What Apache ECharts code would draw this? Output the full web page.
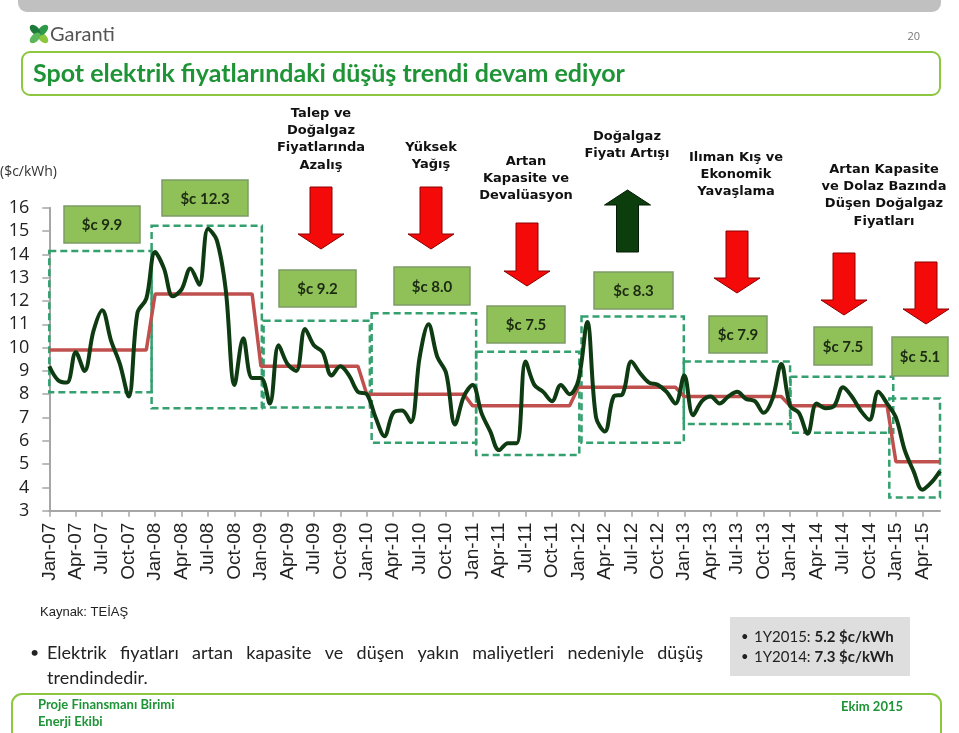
<!DOCTYPE html>
<html><head><meta charset="utf-8">
<script src="https://cdn.jsdelivr.net/npm/echarts@6/dist/echarts.min.js"></script>
<style>html,body{margin:0;padding:0;background:#fff}#c{width:959px;height:733px}</style>
</head><body><div id="c"></div>
<script>
// ---------- DATA ----------
const tickLabels = ['Jan-07','Apr-07','Jul-07','Oct-07','Jan-08','Apr-08','Jul-08','Oct-08',
  'Jan-09','Apr-09','Jul-09','Oct-09','Jan-10','Apr-10','Jul-10','Oct-10',
  'Jan-11','Apr-11','Jul-11','Oct-11','Jan-12','Apr-12','Jul-12','Oct-12',
  'Jan-13','Apr-13','Jul-13','Oct-13','Jan-14','Apr-14','Jul-14','Oct-14',
  'Jan-15','Apr-15'];
// monthly spot price, Jan-07 .. Jun-15 ($c/kWh)
const monthlyPrice = [
  9.2, 8.6, 8.5, 9.8, 9.0, 10.7, 11.6, 10.3, 9.3, 7.9, 11.5, 12.1,
  14.1, 13.4, 12.2, 12.5, 13.4, 12.7, 15.1, 14.6, 12.5, 8.4, 10.4, 8.7,
  8.7, 7.6, 10.1, 9.3, 9.0, 10.8, 10.1, 9.8, 8.8, 9.2, 8.8, 8.1,
  8.0, 7.0, 6.2, 7.2, 7.3, 6.8, 9.6, 11.0, 9.6, 8.9, 6.7, 7.9,
  8.4, 7.2, 6.4, 5.6, 5.9, 5.9, 9.4, 8.4, 8.1, 7.7, 8.4, 8.0,
  8.6, 11.1, 7.0, 6.4, 7.9, 8.0, 9.4, 8.9, 8.5, 8.4, 8.1, 7.6,
  8.8, 7.1, 7.7, 7.9, 7.6, 7.9, 8.1, 7.8, 7.7, 7.2, 7.8, 9.3,
  7.5, 7.2, 6.3, 7.6, 7.4, 7.5, 8.3, 7.9, 7.3, 6.9, 8.1, 7.6,
  7.0, 5.6, 4.7, 3.9, 4.2, 4.7
];
const yearAvg = [9.9, 12.3, 9.2, 8.0, 7.5, 8.3, 7.9, 7.5, 5.1];
const priceLabels = ['$c 9.9','$c 12.3','$c 9.2','$c 8.0','$c 7.5','$c 8.3','$c 7.9','$c 7.5','$c 5.1'];
// dashed range boxes (month index / value)
const boxStart = [0, 11.6, 24.3, 36.55, 48.4, 60.35, 71.95, 84.05, 95.25];
const boxEnd   = [11.6, 24.1, 36.35, 48.4, 60.1, 71.95, 84.0, 95.7, 101];
const boxLow   = [8.08, 7.4, 7.43, 5.92, 5.39, 5.92, 6.72, 6.35, 3.57];
const boxHigh  = [14.15, 15.23, 11.15, 11.47, 9.82, 11.33, 9.4, 8.75, 7.82];
const driverTexts = ['Talep ve\nDoğalgaz\nFiyatlarında\nAzalış','Yüksek\nYağış','Artan\nKapasite ve\nDevalüasyon',
  'Doğalgaz\nFiyatı Artışı','Ilıman Kış ve\nEkonomik\nYavaşlama','Artan Kapasite\nve Dolaz Bazında\nDüşen Doğalgaz\nFiyatları'];

// ---------- LAYOUT (pixels) ----------
const labelBoxes = [[64,206,76,37],[162,180,86,36],[279,270,77,37],[394,267,76,38],[487,306,78,37],
  [594,272,79,37],[709,316,58,37],[814,327,58,38],[892,337,56,39]];
const driverPos = [[321,104.5],[431,138.5],[526,152.5],[627,127.5],[736,148.5],[884,160.5]];
const arrowPos = [[321,187,249,'d'],[431,187,249,'d'],[527,223,286,'d'],[627.5,190,252,'u'],
  [737,231,293,'d'],[844,253,315,'d'],[926,262,324,'d']];

const greenData = monthlyPrice.map((v,i)=>[i,v]);
const redData = monthlyPrice.map((v,i)=>[i, yearAvg[Math.floor(i/12)]]);
const areas = boxStart.map((s,k)=>[{xAxis:s, yAxis:boxHigh[k]},{xAxis:boxEnd[k], yAxis:boxLow[k]}]);

const G = [];
// header bar
G.push({type:'rect', shape:{x:18,y:-12,width:923,height:24,r:9}, style:{fill:'#c0c0c0'}});
// logo
const petals = [['#8cc63f',-45],['#2e9a48',45],['#1e7a3a',135],['#5bb75b',225]];
petals.forEach(p=>{
  const a = p[1]*Math.PI/180;
  G.push({type:'ellipse', x:39+Math.cos(a)*5.5, y:34-Math.sin(a)*5.5, rotation:a,
    shape:{cx:0,cy:0,rx:6.5,ry:3.8}, style:{fill:p[0]}});
});
G.push({type:'text', x:50, y:35, style:{text:'Garanti', font:'20px Lato', fill:'#555', textVerticalAlign:'middle', verticalAlign:'middle'}});
G.push({type:'text', x:920, y:37, style:{text:'20', font:'11px "Open Sans"', fill:'#777', textAlign:'right', align:'right', textVerticalAlign:'middle', verticalAlign:'middle'}});
// title box
G.push({type:'rect', shape:{x:22,y:52,width:918,height:43,r:8}, style:{fill:'none', stroke:'#8dc63f', lineWidth:2}});
G.push({type:'text', x:33, y:74, style:{text:'Spot elektrik fiyatlarındaki düşüş trendi devam ediyor', font:'bold 25px Lato', fill:'#1e9436', textVerticalAlign:'middle', verticalAlign:'middle'}});
G.push({type:'text', x:0, y:172, style:{text:'($c/kWh)', font:'14px "Open Sans"', fill:'#333', textVerticalAlign:'middle', verticalAlign:'middle'}});
// driver texts
driverTexts.forEach((t,k)=>{
  G.push({type:'text', x:driverPos[k][0], y:driverPos[k][1], style:{text:t, font:'bold 13px "DejaVu Sans"', lineHeight:17.4, fill:'#111', textAlign:'center', align:'center', textVerticalAlign:'top', verticalAlign:'top'}});
});
// arrows
arrowPos.forEach(a=>{
  const [cx,t,b,d] = a; const sw=11, hw=23, hl=15;
  let pts;
  if (d==='d') pts=[[cx-sw,t],[cx+sw,t],[cx+sw,b-hl],[cx+hw,b-hl],[cx,b],[cx-hw,b-hl],[cx-sw,b-hl]];
  else pts=[[cx-sw,b],[cx+sw,b],[cx+sw,t+hl],[cx+hw,t+hl],[cx,t],[cx-hw,t+hl],[cx-sw,t+hl]];
  G.push({type:'polygon', shape:{points:pts}, style:d==='d'?{fill:'#f50a0a',stroke:'#8a0000',lineWidth:1}:{fill:'#0c3d0c',stroke:'#041a04',lineWidth:1}, z:5});
});
// price label boxes
priceLabels.forEach((t,k)=>{
  const [x,y,w,h] = labelBoxes[k];
  G.push({type:'rect', shape:{x:x,y:y,width:w,height:h}, style:{fill:'#8fc158', stroke:'#7d9a66', lineWidth:1.5}, z:5});
  G.push({type:'text', x:x+w/2, y:y+h/2+1, style:{text:t, font:'bold 15px Lato', fill:'#1c2a12', textAlign:'center', align:'center', textVerticalAlign:'middle', verticalAlign:'middle'}, z:6});
});
// source
G.push({type:'text', x:40, y:612, style:{text:'Kaynak: TEİAŞ', font:'13px "Liberation Sans"', fill:'#222', textVerticalAlign:'middle', verticalAlign:'middle'}});
// justified bullet line
const bulletWords = 'Elektrik fiyatları artan kapasite ve düşen yakın maliyetleri nedeniyle düşüş'.split(' ');
const mctx = document.createElement('canvas').getContext('2d');
mctx.font = '18px Lato';
const ww = bulletWords.map(w=>mctx.measureText(w).width);
const totalW = ww.reduce((a,b)=>a+b,0);
const gap = (703-47-totalW)/(bulletWords.length-1);
let xx = 47;
bulletWords.forEach((w,k)=>{
  G.push({type:'text', x:xx, y:653, style:{text:w, font:'18px Lato', fill:'#222', textVerticalAlign:'middle', verticalAlign:'middle'}});
  xx += ww[k]+gap;
});
G.push({type:'text', x:30, y:653, style:{text:'•', font:'16px Lato', fill:'#222', textVerticalAlign:'middle', verticalAlign:'middle'}});
G.push({type:'text', x:47, y:678, style:{text:'trendindedir.', font:'18px Lato', fill:'#222', textVerticalAlign:'middle', verticalAlign:'middle'}});
// gray box
G.push({type:'rect', shape:{x:730,y:617,width:180,height:59}, style:{fill:'#dedede'}});
[['1Y2015: ','5.2 $c/kWh',637],['1Y2014: ','7.3 $c/kWh',657]].forEach(r=>{
  G.push({type:'text', x:741, y:r[2], style:{text:'•', font:'13px Lato', fill:'#222', textVerticalAlign:'middle', verticalAlign:'middle'}});
  G.push({type:'text', x:754, y:r[2], style:{text:'{n|'+r[0]+'}{b|'+r[1]+'}', textVerticalAlign:'middle', verticalAlign:'middle',
    rich:{n:{font:'15px Lato', fill:'#222'}, b:{font:'bold 15px Lato', fill:'#222'}}}});
});
// footer
G.push({type:'rect', shape:{x:12,y:694,width:929,height:60,r:10}, style:{fill:'none', stroke:'#8dc63f', lineWidth:2}});
G.push({type:'text', x:38, y:705, style:{text:'Proje Finansmanı Birimi', font:'bold 13px Lato', fill:'#1e9436', textVerticalAlign:'middle', verticalAlign:'middle'}});
G.push({type:'text', x:38, y:722, style:{text:'Enerji Ekibi', font:'bold 13px Lato', fill:'#1e9436', textVerticalAlign:'middle', verticalAlign:'middle'}});
G.push({type:'text', x:903, y:707, style:{text:'Ekim 2015', font:'bold 13px Lato', fill:'#1e9436', textAlign:'right', align:'right', textVerticalAlign:'middle', verticalAlign:'middle'}});

const tickVals = tickLabels.map((_,k)=>k*3);
const chart = echarts.init(document.getElementById('c'), null, {renderer:'canvas'});
chart.setOption({
  animation:false,
  backgroundColor:'#fff',
  grid:{left:49.3, right:19, top:207.8, bottom:222.3, containLabel:false},
  xAxis:{type:'value', min:0, max:101, interval:3, splitLine:{show:false},
    axisLine:{show:true, lineStyle:{color:'#a6a6a6', width:2}},
    axisTick:{show:true, length:6, lineStyle:{color:'#a6a6a6', width:1.5}, customValues:tickVals},
    axisLabel:{rotate:90, margin:12, fontSize:19, fontFamily:'Liberation Sans', color:'#222', customValues:tickVals,
      formatter:v=>tickLabels[Math.round(v/3)]||''}},
  yAxis:{type:'value', min:3, max:16, interval:1, splitLine:{show:false},
    axisLine:{show:true, lineStyle:{color:'#a6a6a6', width:2}},
    axisTick:{show:true, length:7, lineStyle:{color:'#a6a6a6', width:1.5}},
    axisLabel:{margin:20, fontSize:18, fontFamily:'Open Sans', color:'#222'}},
  series:[
    {type:'line', data:redData, symbol:'none', lineStyle:{color:'#c0504d', width:3.5}, z:2},
    {type:'line', data:greenData, symbol:'none', smooth:0.35, lineStyle:{color:'#0e3b12', width:4}, z:3,
      markArea:{silent:true, itemStyle:{color:'rgba(0,0,0,0)', borderColor:'#33a06e', borderWidth:2.5, borderType:[7,4]}, data:areas}}
  ],
  graphic:G
});
</script></body></html>
